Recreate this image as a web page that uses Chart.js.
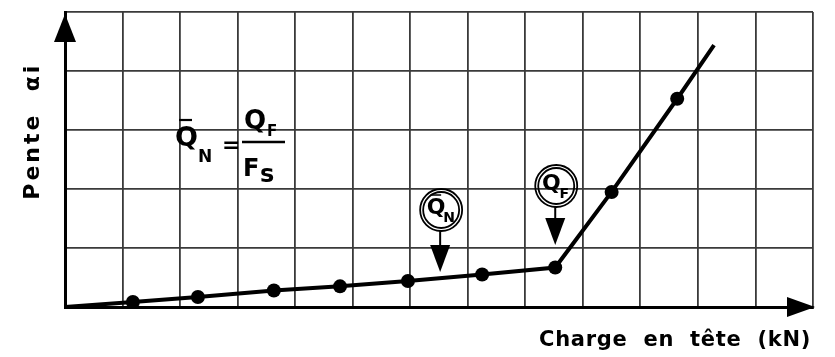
<!DOCTYPE html>
<html>
<head>
<meta charset="utf-8">
<script src="https://cdn.jsdelivr.net/npm/chart.js@4/dist/chart.umd.min.js"></script>
<style>
  html, body { margin: 0; padding: 0; background: #ffffff; }
  #wrap { width: 835px; height: 357px; }
</style>
</head>
<body>
<div id="wrap"><canvas id="c" width="835" height="357"></canvas></div>
<script>
// Load at the pile head (grid units) and slope alpha_i of each load step
const charge = [0, 1.18, 2.31, 3.63, 4.78, 5.96, 7.25, 8.52, 9.50, 10.64, 11.28];
const pente  = [0, 0.085, 0.17, 0.28, 0.35, 0.44, 0.55, 0.67, 1.95, 3.53, 4.44];
// Measured steps carry a dot; the origin and the extrapolated end do not
const mesure = [false, true, true, true, true, true, true, true, true, true, false];

// Characteristic loads marked on the curve
const chargesRepere = [6.52, 8.52];
const nomsRepere = [['Q', 'N', true], ['Q', 'F', false]];

const xMax = 13, yMax = 5;
const titreX = 'Charge  en  tête  (kN)';
const titreY = 'Pente  αi';

const points = charge.map((x, i) => ({ x: x, y: pente[i] }));

const decor = {
  id: 'decor',
  afterDraw(chart) {
    const ctx = chart.ctx;
    const xs = chart.scales.x, ys = chart.scales.y;
    const L = xs.getPixelForValue(0), B = ys.getPixelForValue(0);
    const R = xs.getPixelForValue(xMax), T = ys.getPixelForValue(yMax);
    ctx.save();
    ctx.fillStyle = '#000';
    ctx.strokeStyle = '#000';

    // axis arrowheads
    ctx.beginPath();
    ctx.moveTo(L, T + 2); ctx.lineTo(L - 11, T + 30); ctx.lineTo(L + 11, T + 30);
    ctx.closePath(); ctx.fill();
    ctx.beginPath();
    ctx.moveTo(R + 2, B); ctx.lineTo(R - 26, B - 10); ctx.lineTo(R - 26, B + 10);
    ctx.closePath(); ctx.fill();

    // axis titles
    ctx.font = 'bold 21px "DejaVu Sans"';
    ctx.letterSpacing = '0.7px';
    ctx.textAlign = 'right';
    ctx.textBaseline = 'middle';
    ctx.fillText(titreX, R - 2, B + 34);
    ctx.save();
    ctx.translate(L - 32, ys.getPixelForValue(2.98));
    ctx.rotate(-Math.PI / 2);
    ctx.textAlign = 'center';
    ctx.letterSpacing = '3px';
    ctx.font = 'bold 22px "DejaVu Sans"';
    ctx.fillText(titreY, 0, 0);
    ctx.restore();
    ctx.letterSpacing = '0px';

    // circled markers with arrows pointing to the curve
    chargesRepere.forEach((q, k) => {
      const px = xs.getPixelForValue(q);
      const tipY = k === 0 ? 272 : 245;
      const cy = tipY - (k === 0 ? 62 : 59);
      const r = 21;
      ctx.lineWidth = 1.8;
      ctx.beginPath(); ctx.arc(px + 1, cy, r, 0, Math.PI * 2); ctx.stroke();
      ctx.beginPath(); ctx.arc(px + 1, cy, r - 3, 0, Math.PI * 2); ctx.stroke();
      ctx.lineWidth = 2;
      ctx.beginPath(); ctx.moveTo(px, cy + r); ctx.lineTo(px, tipY - 24); ctx.stroke();
      ctx.beginPath();
      ctx.moveTo(px, tipY); ctx.lineTo(px - 10, tipY - 27); ctx.lineTo(px + 10, tipY - 27);
      ctx.closePath(); ctx.fill();
      const [main, sub, bar] = nomsRepere[k];
      ctx.textAlign = 'center';
      ctx.textBaseline = 'middle';
      ctx.font = 'bold 22px "DejaVu Sans"';
      ctx.fillText(main, px - 4, cy - 2);
      ctx.font = 'bold 14px "DejaVu Sans"';
      ctx.fillText(sub, px + 9, cy + 8);
      if (bar) {
        ctx.lineWidth = 1.5;
        ctx.beginPath(); ctx.moveTo(px - 9, cy - 15); ctx.lineTo(px + 1, cy - 15); ctx.stroke();
      }
    });

    // definition of the mean load
    ctx.textAlign = 'left';
    ctx.textBaseline = 'alphabetic';
    ctx.font = 'bold 27px "DejaVu Sans"';
    ctx.fillText('Q', 175, 146);
    ctx.lineWidth = 2.2;
    ctx.beginPath(); ctx.moveTo(179, 120); ctx.lineTo(192, 120); ctx.stroke();
    ctx.font = 'bold 17px "DejaVu Sans"';
    ctx.fillText('N', 198, 162);
    ctx.font = 'bold 22px "DejaVu Sans"';
    ctx.fillText('=', 222, 152);
    ctx.lineWidth = 2.5;
    ctx.beginPath(); ctx.moveTo(242, 142); ctx.lineTo(285, 142); ctx.stroke();
    ctx.font = 'bold 26px "DejaVu Sans"';
    ctx.fillText('Q', 244, 129);
    ctx.font = 'bold 24px "DejaVu Sans"';
    ctx.fillText('F', 243, 176);
    ctx.font = 'bold 15px "DejaVu Sans"';
    ctx.fillText('F', 267, 136);
    ctx.font = 'bold 24px "DejaVu Sans"';
    ctx.fillText('s', 260, 182);
    ctx.restore();
  }
};

new Chart(document.getElementById('c'), {
  type: 'scatter',
  data: {
    datasets: [{
      data: points,
      showLine: true,
      borderColor: '#000',
      borderWidth: 4,
      backgroundColor: '#000',
      pointRadius: mesure.map(m => m ? 7 : 0),
      pointHoverRadius: mesure.map(m => m ? 7 : 0),
      pointBorderWidth: 0,
      tension: 0
    }]
  },
  options: {
    responsive: false,
    animation: false,
    events: [],
    layout: { padding: { left: 65, top: 12, right: 22, bottom: 50 } },
    plugins: { legend: { display: false }, tooltip: { enabled: false } },
    scales: {
      x: {
        type: 'linear', min: 0, max: xMax,
        ticks: { display: false, stepSize: 1 },
        grid: { color: '#3a3a3a', lineWidth: 1.8, drawTicks: false },
        border: { display: true, color: '#000', width: 3 }
      },
      y: {
        type: 'linear', min: 0, max: yMax,
        ticks: { display: false, stepSize: 1 },
        grid: { color: '#3a3a3a', lineWidth: 1.8, drawTicks: false },
        border: { display: true, color: '#000', width: 3 }
      }
    }
  },
  plugins: [decor]
});
</script>
</body>
</html>
